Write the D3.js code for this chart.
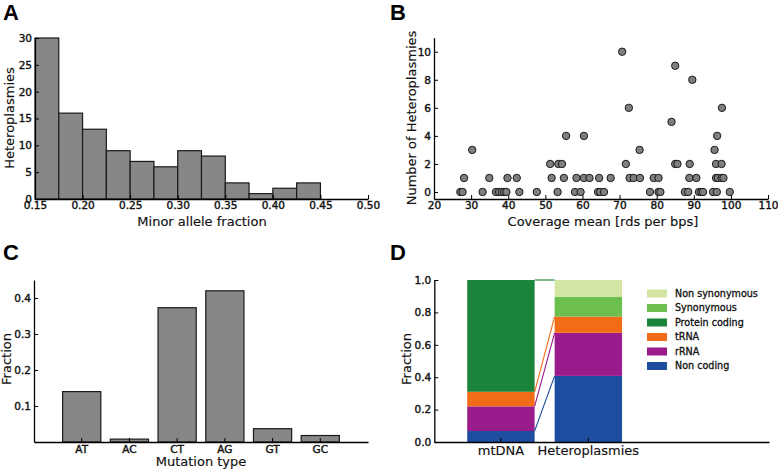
<!DOCTYPE html>
<html>
<head>
<meta charset="utf-8">
<script src="https://cdn.jsdelivr.net/npm/d3@7"></script>
<style>
  body { margin: 0; background: #fff; }
  svg { display: block; }
  .tick text { font-family: "DejaVu Sans", sans-serif; font-size: 10.5px; fill: #111; stroke: #111; stroke-width: 0.4px; }
  .axlabel { font-family: "DejaVu Sans", sans-serif; font-size: 13px; fill: #111; stroke: #111; stroke-width: 0.15px; }
  .letter { font-family: "Liberation Sans", Arial, sans-serif; font-size: 22px; font-weight: bold; fill: #000; }
  .legend text { font-family: "DejaVu Sans", sans-serif; font-size: 9.6px; fill: #111; stroke: #111; stroke-width: 0.3px; }
</style>
</head>
<body>
<svg id="fig" width="778" height="472"></svg>
<script>
// panel A: histogram of minor allele fraction
const afBinStarts = [0.15, 0.175, 0.2, 0.225, 0.25, 0.275, 0.3, 0.325, 0.35, 0.375, 0.4, 0.425];
const afCounts = [30, 16, 13, 9, 7, 6, 9, 8, 3, 1, 2, 3];
const afBinWidth = 0.025;
const afTicks = [0.15, 0.2, 0.25, 0.3, 0.35, 0.4, 0.45, 0.5];
const afCountTicks = [0, 5, 10, 15, 20, 25, 30];

// panel B: coverage vs number of heteroplasmies
const coverage = [
  27.1, 27.7, 33.1, 36.7, 37.5, 38.2, 38.9, 39.5, 43.0, 47.7, 53.3, 58.0, 59.5, 64.2, 64.8, 65.8,
  78.2, 80.5, 81.0, 87.6, 88.5, 91.4, 92.0, 92.5, 95.2, 96.2, 99.7,
  28.1, 34.9, 39.8, 42.3, 51.7, 55.0, 58.4, 60.4, 61.9, 64.5, 67.6, 72.7, 73.8, 75.5, 79.2, 80.5,
  88.8, 90.7, 96.0, 96.5, 97.5, 98.0,
  51.3, 53.5, 54.5, 71.7, 85.0, 85.6, 88.9, 96.0, 97.5,
  30.3, 75.4, 95.6,
  55.6, 60.4, 96.3,
  84.0,
  72.5, 97.6,
  89.6,
  85.0,
  70.7
];
const hetCounts = [
  0, 0, 0, 0, 0, 0, 0, 0, 0, 0, 0, 0, 0, 0, 0, 0,
  0, 0, 0, 0, 0, 0, 0, 0, 0, 0, 0,
  1, 1, 1, 1, 1, 1, 1, 1, 1, 1, 1, 1, 1, 1, 1, 1,
  1, 1, 1, 1, 1, 1,
  2, 2, 2, 2, 2, 2, 2, 2, 2,
  3, 3, 3,
  4, 4, 4,
  5,
  6, 6,
  8,
  9,
  10
];
const covTicks = [20, 30, 40, 50, 60, 70, 80, 90, 100, 110];
const hetTicks = [0, 2, 4, 6, 8, 10];

// panel C: mutation types
const mutTypes = ["AT", "AC", "CT", "AG", "GT", "GC"];
const mutFraction = [0.14, 0.008, 0.373, 0.42, 0.037, 0.018];
const mutTicks = [0.1, 0.2, 0.3, 0.4];

// panel D: genomic region composition
const groups = ["mtDNA", "Heteroplasmies"];
const regionKeys = ["Non coding", "rRNA", "tRNA", "Protein coding", "Synonymous", "Non synonymous"];
const mtdnaShare = [0.068, 0.152, 0.09, 0.69, 0, 0];
const hetShare = [0.408, 0.266, 0.1, 0, 0.121, 0.105];
const regionColors = ["#1d4d9e", "#9a1b8b", "#f26b16", "#1b843b", "#6cbf4f", "#d3e6a3"];
const fracTicks = [0, 0.2, 0.4, 0.6, 0.8, 1.0];

const svg = d3.select("#fig");
const barGray = "#878787";
const edge = "#1a1a1a";

function styleAxis(g) {
  g.select(".domain").attr("stroke", "#000").attr("stroke-width", 1.3);
  g.selectAll(".tick line").attr("stroke", "#000").attr("stroke-width", 1);
  g.attr("font-family", null).attr("font-size", null);
}

function letter(x, y, t) {
  svg.append("text").attr("class", "letter").attr("x", x).attr("y", y).text(t);
}

// ---------- A ----------
{
  const x = d3.scaleLinear().domain([0.15, 0.5]).range([35, 368]);
  const y = d3.scaleLinear().domain([0, 30]).range([199, 38]);
  const g = svg.append("g");

  g.selectAll("rect").data(afCounts).enter().append("rect")
    .attr("x", (d, i) => x(afBinStarts[i]))
    .attr("y", d => y(d))
    .attr("width", (d, i) => x(afBinStarts[i] + afBinWidth) - x(afBinStarts[i]))
    .attr("height", d => y(0) - y(d))
    .attr("fill", barGray).attr("stroke", edge).attr("stroke-width", 1.2);

  g.append("g").attr("transform", "translate(0,199)")
    .call(d3.axisBottom(x).tickValues(afTicks).tickFormat(d3.format(".2f")).tickSize(-4).tickSizeOuter(0).tickPadding(3))
    .call(styleAxis);
  g.append("g").attr("transform", "translate(35,0)")
    .call(d3.axisLeft(y).tickValues(afCountTicks).tickSize(-4).tickSizeOuter(0).tickPadding(3))
    .call(styleAxis);

  g.append("text").attr("class", "axlabel").attr("x", 202).attr("y", 226)
    .attr("text-anchor", "middle").text("Minor allele fraction");
  g.append("text").attr("class", "axlabel").attr("transform", "translate(14,118) rotate(-90)")
    .attr("text-anchor", "middle").text("Heteroplasmies");
  letter(3, 20, "A");
}

// ---------- B ----------
{
  const x = d3.scaleLinear().domain([20, 110]).range([434, 768]);
  const y = d3.scaleLinear().domain([-0.5, 11]).range([199, 37.7]);
  const g = svg.append("g");

  g.append("g").attr("transform", "translate(0,199)")
    .call(d3.axisBottom(x).tickValues(covTicks).tickSize(-4).tickSizeOuter(0).tickPadding(3))
    .call(styleAxis);
  g.append("g").attr("transform", "translate(434,0)")
    .call(d3.axisLeft(y).tickValues(hetTicks).tickSize(-4).tickSizeOuter(0).tickPadding(3))
    .call(styleAxis);

  g.selectAll("circle").data(coverage).enter().append("circle")
    .attr("cx", d => x(d))
    .attr("cy", (d, i) => y(hetCounts[i]))
    .attr("r", 3.7)
    .attr("fill", "#7f7f7f").attr("stroke", edge).attr("stroke-width", 1);

  g.append("text").attr("class", "axlabel").attr("x", 603).attr("y", 226)
    .attr("text-anchor", "middle").text("Coverage mean [rds per bps]");
  g.append("text").attr("class", "axlabel").attr("transform", "translate(416,118) rotate(-90)")
    .attr("text-anchor", "middle").text("Number of Heteroplasmies");
  letter(390, 20, "B");
}

// ---------- C ----------
{
  const x = d3.scaleBand().domain(mutTypes).range([34, 368]).paddingInner(0.2).paddingOuter(0.6);
  const y = d3.scaleLinear().domain([0, 0.45]).range([442, 280]);
  const g = svg.append("g");

  g.selectAll("rect").data(mutFraction).enter().append("rect")
    .attr("x", (d, i) => x(mutTypes[i]))
    .attr("y", d => y(d))
    .attr("width", x.bandwidth())
    .attr("height", d => y(0) - y(d))
    .attr("fill", barGray).attr("stroke", edge).attr("stroke-width", 1.2);

  g.append("g").attr("transform", "translate(0,442)")
    .call(d3.axisBottom(x).tickSize(-4).tickSizeOuter(0).tickPadding(3.5))
    .call(styleAxis);
  g.append("g").attr("transform", "translate(34,0)")
    .call(d3.axisLeft(y).tickValues(mutTicks).tickFormat(d3.format(".1f")).tickSize(-4).tickSizeOuter(0).tickPadding(3))
    .call(styleAxis);

  g.append("text").attr("class", "axlabel").attr("x", 201).attr("y", 466)
    .attr("text-anchor", "middle").text("Mutation type");
  g.append("text").attr("class", "axlabel").attr("transform", "translate(11,359) rotate(-90)")
    .attr("text-anchor", "middle").text("Fraction");
  letter(3, 260, "C");
}

// ---------- D ----------
{
  const x = d3.scaleBand().domain(groups).range([434.3, 769]).paddingInner(0.229).paddingOuter(1.029).align(0.183);
  const y = d3.scaleLinear().domain([0, 1]).range([442, 280]);
  const g = svg.append("g");

  const rows = groups.map((name, gi) => {
    const r = { group: name };
    regionKeys.forEach((k, i) => { r[k] = gi === 0 ? mtdnaShare[i] : hetShare[i]; });
    return r;
  });
  const series = d3.stack().keys(regionKeys)(rows);

  series.forEach((s, si) => {
    g.append("g").selectAll("rect").data(s).enter().append("rect")
      .attr("x", d => x(d.data.group))
      .attr("y", d => y(d[1]))
      .attr("width", x.bandwidth())
      .attr("height", d => y(d[0]) - y(d[1]))
      .attr("fill", regionColors[si]);
  });

  // connector lines from mtDNA segment tops to heteroplasmy segment tops
  const x0 = x("mtDNA") + x.bandwidth();
  const x1 = x("Heteroplasmies");
  [0, 1, 2, 3].forEach(si => {
    const from = series[si][0][1];
    const to = si === 3 ? d3.sum(hetShare) : series[si][1][1];
    g.append("line")
      .attr("x1", x0).attr("y1", y(from))
      .attr("x2", x1).attr("y2", y(to))
      .attr("stroke", regionColors[si]).attr("stroke-width", 1.1);
  });

  g.append("g").attr("transform", "translate(0,442)")
    .call(d3.axisBottom(x).tickSize(-4).tickSizeOuter(0).tickPadding(4))
    .call(styleAxis)
    .call(a => a.selectAll(".tick text").style("font-size", "13px").style("stroke-width", "0.15px"));
  g.append("g").attr("transform", "translate(434.3,0)")
    .call(d3.axisLeft(y).tickValues(fracTicks).tickFormat(d3.format(".1f")).tickSize(-4).tickSizeOuter(0).tickPadding(3))
    .call(styleAxis);

  g.append("text").attr("class", "axlabel").attr("transform", "translate(411,359) rotate(-90)")
    .attr("text-anchor", "middle").text("Fraction");

  const legend = g.append("g").attr("class", "legend");
  const order = regionKeys.slice().reverse();
  order.forEach((k, i) => {
    const ly = 293.5 + i * 14.5;
    legend.append("rect").attr("x", 647).attr("y", ly - 4).attr("width", 20).attr("height", 8)
      .attr("fill", regionColors[regionKeys.indexOf(k)]);
    legend.append("text").attr("x", 675).attr("y", ly + 3.4).text(k);
  });
  letter(390, 260, "D");
}
</script>
</body>
</html>
